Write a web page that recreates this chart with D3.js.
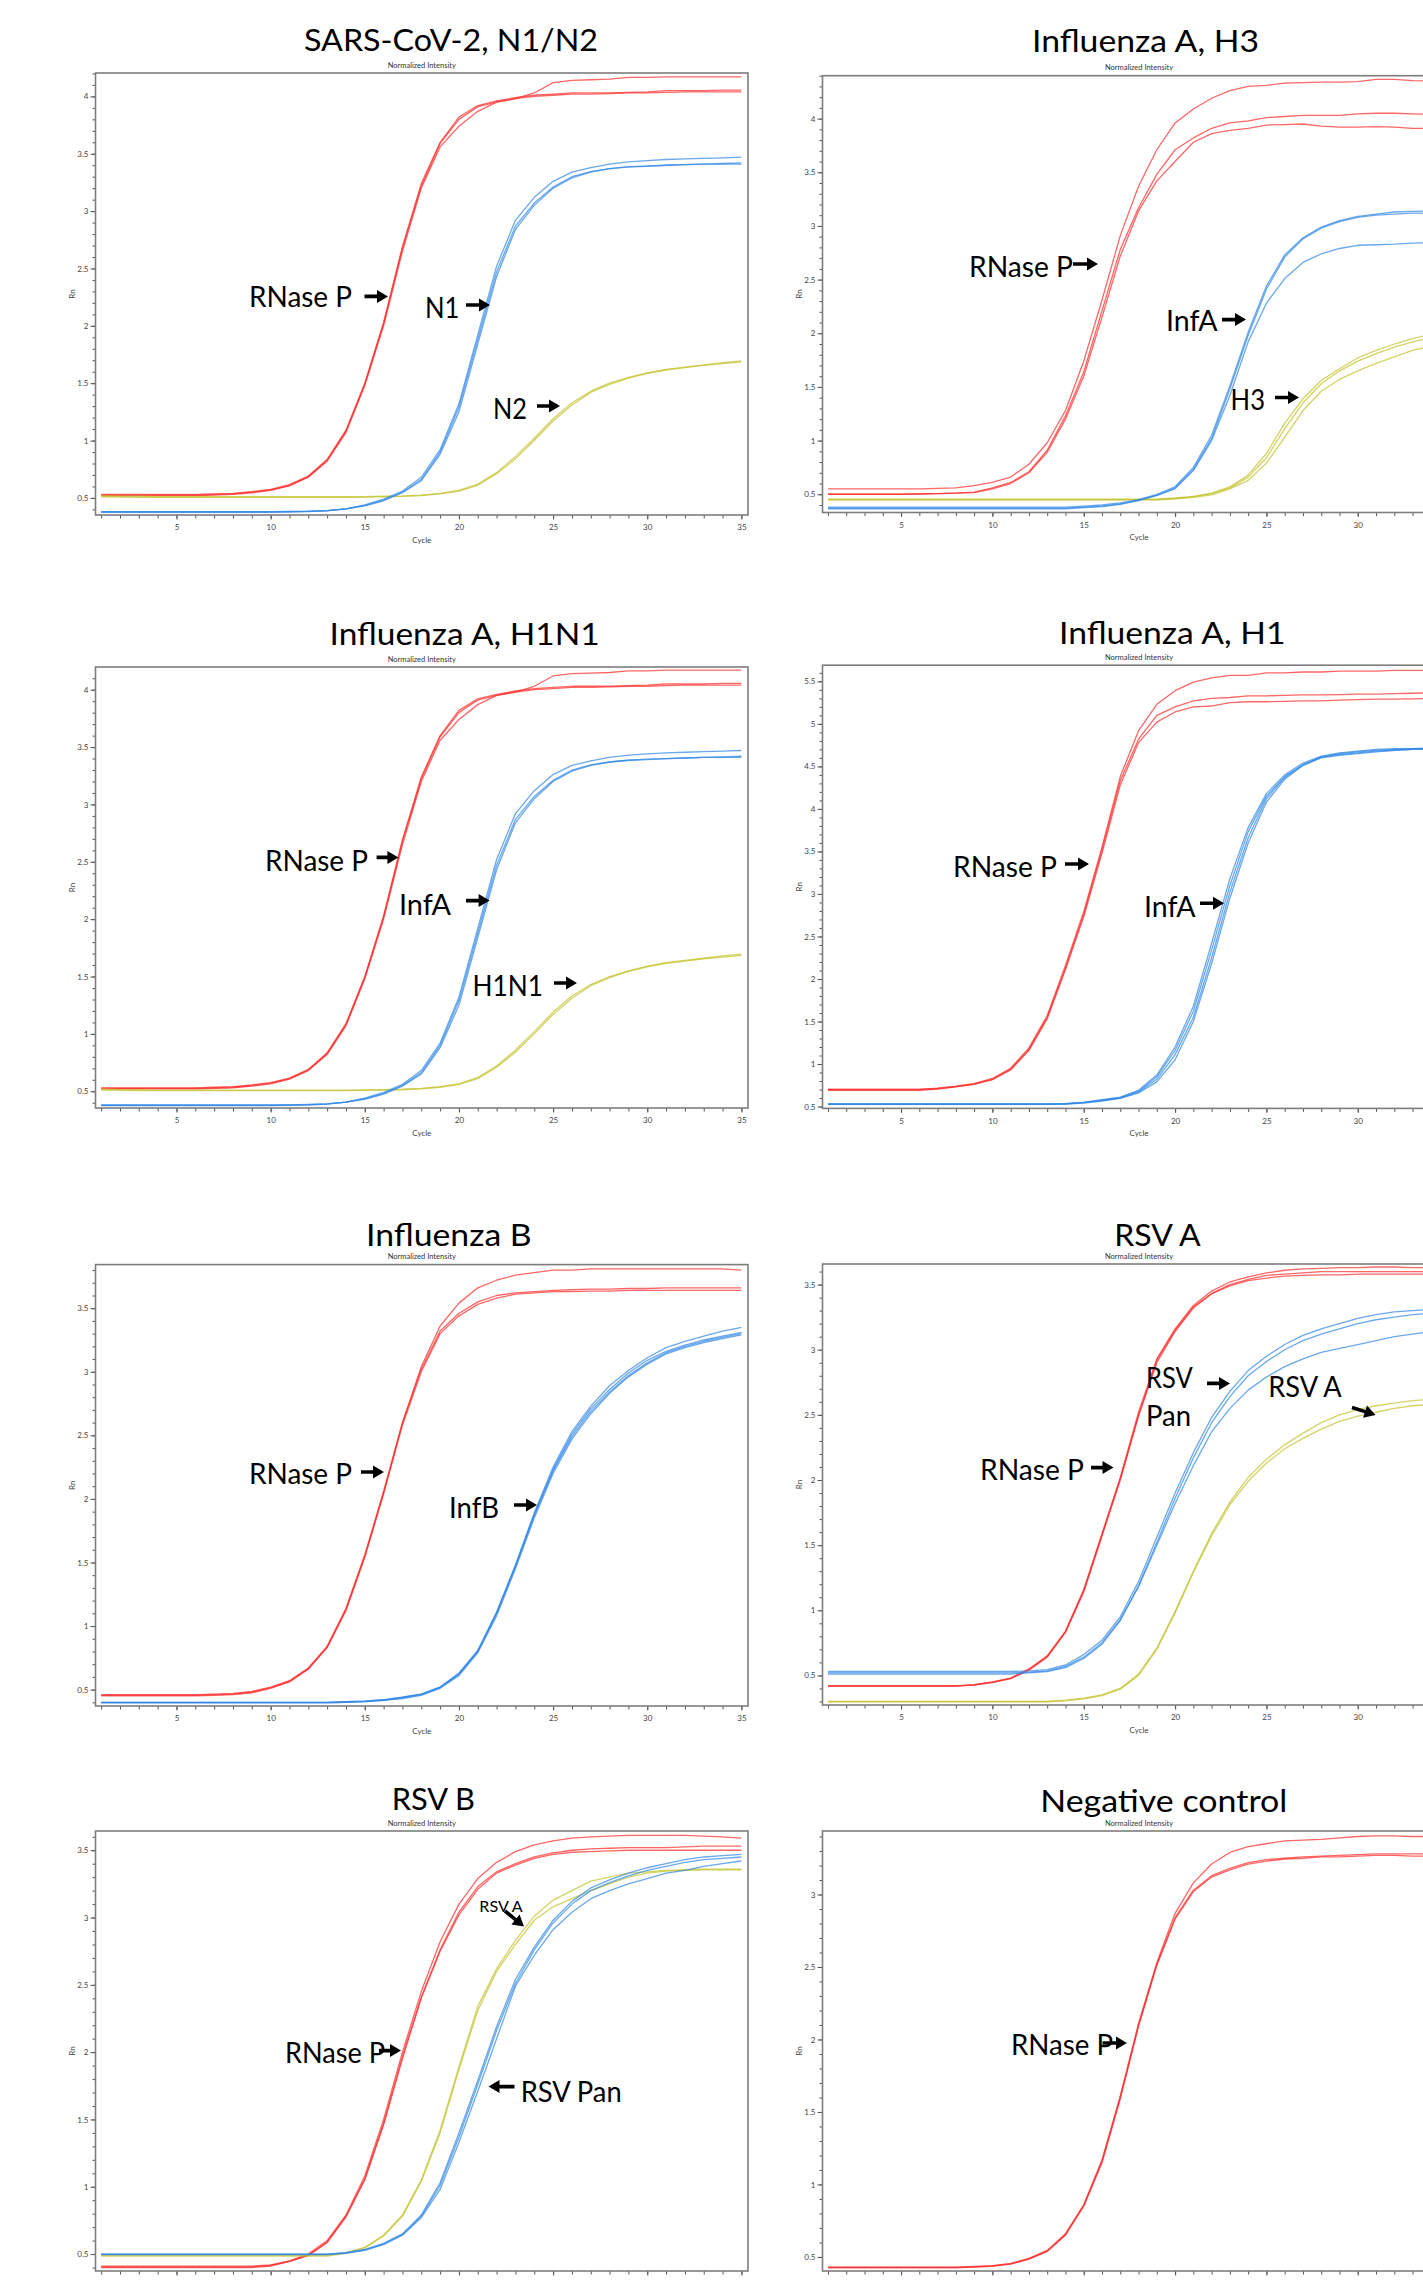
<!DOCTYPE html>
<html lang="en">
<head>
<meta charset="utf-8">
<title>Multiplex RT-qPCR amplification plots</title>
<script src="https://cdn.jsdelivr.net/npm/d3@7"></script>
<style>
  html, body { margin: 0; padding: 0; background: #fff; overflow: hidden; }
  svg { display: block; font-family: Lato, "Open Sans", sans-serif; }
  .tick text { fill: #444; font-size: 8px; font-family: Lato, sans-serif; }
  .tick line { stroke: #555; }
  .curve { fill: none; stroke-width: 1.3; stroke-linejoin: round; }
</style>
</head>
<body>
<script>

// ---- data (Rn per cycle) ----
var cycles = [1,2,3,4,5,6,7,8,9,10,11,12,13,14,15,16,17,18,19,20,21,22,23,24,25,26,27,28,29,30,31,32,33,34,35];
var xTickLabels = [5,10,15,20,25,30,35];
var yTicks3 = [0.5,1,1.5,2,2.5,3];
var yTicks35 = [0.5,1,1.5,2,2.5,3,3.5];
var yTicks4 = [0.5,1,1.5,2,2.5,3,3.5,4];
var yTicks55 = [0.5,1,1.5,2,2.5,3,3.5,4,4.5,5,5.5];

// SARS-CoV-2 N1/N2 run (the Influenza A H1N1 panel shows the same run)
var sarsRnaseP = [
  [0.53,0.53,0.53,0.53,0.53,0.53,0.535,0.54,0.555,0.575,0.615,0.69,0.835,1.09,1.50,2.03,2.69,3.24,3.60,3.82,3.92,3.96,3.99,4.01,4.02,4.03,4.03,4.03,4.035,4.04,4.05,4.05,4.05,4.055,4.055],
  [0.525,0.525,0.525,0.525,0.525,0.525,0.53,0.535,0.55,0.57,0.61,0.685,0.83,1.08,1.49,2.02,2.68,3.22,3.59,3.80,3.91,3.95,3.98,4.03,4.12,4.14,4.145,4.15,4.165,4.165,4.17,4.17,4.17,4.17,4.17],
  [0.52,0.52,0.52,0.52,0.52,0.52,0.525,0.53,0.545,0.565,0.605,0.68,0.82,1.07,1.48,2.00,2.65,3.20,3.56,3.74,3.87,3.95,3.98,4.00,4.01,4.02,4.02,4.025,4.03,4.03,4.035,4.04,4.04,4.04,4.04]
];
var sarsN1 = [
  [0.38,0.38,0.38,0.38,0.38,0.38,0.38,0.38,0.38,0.38,0.382,0.385,0.39,0.405,0.43,0.475,0.545,0.65,0.88,1.25,1.84,2.43,2.84,3.05,3.20,3.29,3.34,3.37,3.385,3.395,3.40,3.405,3.41,3.41,3.41],
  [0.375,0.375,0.375,0.375,0.375,0.375,0.375,0.375,0.375,0.375,0.377,0.38,0.388,0.405,0.44,0.49,0.56,0.68,0.92,1.32,1.92,2.52,2.92,3.12,3.26,3.34,3.38,3.41,3.43,3.44,3.45,3.455,3.46,3.465,3.47],
  [0.378,0.378,0.378,0.378,0.378,0.378,0.378,0.378,0.378,0.378,0.38,0.383,0.39,0.405,0.435,0.48,0.55,0.66,0.90,1.29,1.88,2.47,2.87,3.07,3.21,3.30,3.345,3.37,3.385,3.39,3.40,3.405,3.41,3.415,3.42]
];
var sarsN2 = [
  [0.52,0.515,0.515,0.51,0.51,0.51,0.51,0.51,0.51,0.51,0.51,0.51,0.51,0.51,0.512,0.515,0.518,0.525,0.54,0.565,0.62,0.72,0.86,1.02,1.19,1.33,1.43,1.50,1.55,1.59,1.62,1.64,1.66,1.68,1.695],
  [0.51,0.508,0.505,0.505,0.505,0.505,0.505,0.505,0.505,0.505,0.505,0.505,0.505,0.505,0.507,0.51,0.513,0.52,0.535,0.56,0.61,0.71,0.84,1.00,1.17,1.31,1.42,1.49,1.545,1.585,1.615,1.635,1.655,1.67,1.685]
];

// Influenza A, H3
var h3RnaseP = [
  [0.55,0.55,0.55,0.55,0.55,0.55,0.555,0.56,0.58,0.61,0.66,0.78,0.98,1.28,1.74,2.31,2.91,3.37,3.71,3.96,4.09,4.19,4.26,4.30,4.31,4.33,4.335,4.34,4.34,4.345,4.365,4.365,4.355,4.35,4.35],
  [0.50,0.50,0.50,0.50,0.50,0.505,0.505,0.51,0.52,0.56,0.61,0.71,0.91,1.23,1.64,2.21,2.78,3.17,3.48,3.71,3.82,3.91,3.96,3.98,4.01,4.02,4.03,4.03,4.03,4.045,4.05,4.05,4.045,4.04,4.04],
  [0.50,0.50,0.50,0.50,0.50,0.50,0.505,0.51,0.515,0.55,0.60,0.70,0.89,1.20,1.60,2.15,2.72,3.14,3.42,3.60,3.78,3.86,3.89,3.91,3.94,3.945,3.95,3.93,3.92,3.92,3.925,3.92,3.91,3.91,3.91]
];
var h3InfA = [
  [0.38,0.38,0.38,0.38,0.38,0.38,0.38,0.38,0.38,0.38,0.38,0.38,0.38,0.38,0.39,0.40,0.42,0.45,0.50,0.57,0.75,1.05,1.51,2.01,2.44,2.73,2.89,2.99,3.05,3.09,3.11,3.13,3.135,3.14,3.145],
  [0.365,0.365,0.365,0.365,0.365,0.365,0.365,0.365,0.365,0.365,0.365,0.365,0.365,0.365,0.375,0.385,0.405,0.44,0.49,0.56,0.73,1.02,1.48,1.98,2.41,2.71,2.88,2.98,3.04,3.08,3.10,3.11,3.12,3.12,3.125],
  [0.37,0.37,0.37,0.37,0.37,0.37,0.37,0.37,0.37,0.37,0.37,0.37,0.37,0.37,0.38,0.39,0.41,0.445,0.49,0.55,0.72,1.00,1.42,1.92,2.28,2.51,2.66,2.74,2.79,2.82,2.825,2.83,2.84,2.845,2.85]
];
var h3H3 = [
  [0.455,0.455,0.455,0.455,0.455,0.455,0.455,0.455,0.455,0.455,0.455,0.455,0.455,0.455,0.455,0.455,0.455,0.455,0.455,0.465,0.48,0.51,0.57,0.68,0.88,1.16,1.39,1.56,1.67,1.77,1.84,1.90,1.95,1.99,2.02],
  [0.45,0.45,0.45,0.45,0.45,0.45,0.45,0.45,0.45,0.45,0.45,0.45,0.45,0.45,0.45,0.45,0.45,0.45,0.45,0.46,0.475,0.505,0.56,0.66,0.84,1.11,1.35,1.53,1.65,1.74,1.81,1.87,1.92,1.96,1.99],
  [0.448,0.448,0.448,0.448,0.448,0.448,0.448,0.448,0.448,0.448,0.448,0.448,0.448,0.448,0.448,0.448,0.448,0.448,0.448,0.458,0.47,0.495,0.55,0.63,0.79,1.03,1.28,1.46,1.57,1.65,1.72,1.78,1.84,1.88,1.92]
];

// Influenza A, H1
var h1RnaseP = [
  [0.70,0.70,0.70,0.70,0.70,0.70,0.715,0.74,0.77,0.83,0.95,1.19,1.57,2.16,2.79,3.55,4.38,4.92,5.23,5.39,5.49,5.54,5.57,5.57,5.60,5.60,5.61,5.61,5.62,5.62,5.62,5.63,5.63,5.63,5.63],
  [0.70,0.70,0.70,0.70,0.70,0.70,0.712,0.735,0.765,0.82,0.94,1.17,1.55,2.13,2.76,3.52,4.33,4.82,5.10,5.20,5.27,5.30,5.31,5.33,5.33,5.335,5.34,5.34,5.345,5.35,5.35,5.355,5.36,5.365,5.37],
  [0.69,0.69,0.69,0.69,0.69,0.69,0.705,0.73,0.76,0.815,0.93,1.16,1.53,2.11,2.73,3.48,4.28,4.78,5.02,5.14,5.20,5.21,5.25,5.26,5.26,5.265,5.27,5.27,5.28,5.285,5.29,5.29,5.295,5.30,5.30]
];
var h1InfA = [
  [0.53,0.53,0.53,0.53,0.53,0.53,0.53,0.53,0.53,0.53,0.53,0.53,0.53,0.535,0.55,0.58,0.61,0.69,0.87,1.20,1.68,2.42,3.18,3.78,4.18,4.40,4.54,4.62,4.66,4.68,4.70,4.71,4.71,4.72,4.72],
  [0.53,0.53,0.53,0.53,0.53,0.53,0.53,0.53,0.53,0.53,0.53,0.53,0.53,0.535,0.548,0.575,0.605,0.68,0.85,1.16,1.62,2.34,3.10,3.73,4.15,4.38,4.52,4.61,4.65,4.67,4.69,4.70,4.71,4.71,4.72],
  [0.525,0.525,0.525,0.525,0.525,0.525,0.525,0.525,0.525,0.525,0.525,0.525,0.525,0.53,0.545,0.57,0.60,0.67,0.82,1.11,1.55,2.25,3.02,3.66,4.12,4.37,4.52,4.61,4.64,4.66,4.68,4.69,4.70,4.70,4.71],
  [0.525,0.525,0.525,0.525,0.525,0.525,0.525,0.525,0.525,0.525,0.525,0.525,0.525,0.53,0.54,0.565,0.595,0.66,0.79,1.05,1.50,2.18,2.95,3.60,4.08,4.35,4.51,4.60,4.63,4.65,4.67,4.69,4.70,4.71,4.72]
];

// Influenza B
var infBRnaseP = [
  [0.46,0.46,0.46,0.46,0.46,0.46,0.465,0.47,0.485,0.52,0.57,0.67,0.84,1.14,1.56,2.06,2.60,3.04,3.36,3.54,3.66,3.72,3.76,3.78,3.80,3.80,3.81,3.81,3.81,3.81,3.81,3.81,3.81,3.81,3.80],
  [0.455,0.455,0.455,0.455,0.455,0.455,0.46,0.465,0.48,0.515,0.565,0.665,0.835,1.13,1.55,2.05,2.60,3.02,3.32,3.46,3.55,3.60,3.62,3.63,3.64,3.645,3.65,3.65,3.655,3.655,3.66,3.66,3.66,3.66,3.66],
  [0.45,0.45,0.45,0.45,0.45,0.45,0.455,0.46,0.475,0.51,0.56,0.66,0.83,1.12,1.54,2.04,2.58,3.00,3.30,3.44,3.53,3.58,3.61,3.62,3.63,3.63,3.635,3.635,3.64,3.64,3.64,3.64,3.64,3.64,3.64]
];
var infBInfB = [
  [0.40,0.40,0.40,0.40,0.40,0.40,0.40,0.40,0.40,0.40,0.40,0.40,0.40,0.405,0.41,0.42,0.44,0.465,0.52,0.63,0.81,1.11,1.48,1.89,2.25,2.53,2.73,2.89,3.01,3.11,3.19,3.24,3.28,3.32,3.35],
  [0.398,0.398,0.398,0.398,0.398,0.398,0.398,0.398,0.398,0.398,0.398,0.398,0.398,0.40,0.405,0.415,0.435,0.46,0.515,0.62,0.80,1.10,1.47,1.87,2.22,2.49,2.69,2.84,2.97,3.07,3.15,3.20,3.24,3.27,3.30],
  [0.395,0.395,0.395,0.395,0.395,0.395,0.395,0.395,0.395,0.395,0.395,0.395,0.395,0.40,0.405,0.415,0.43,0.455,0.51,0.61,0.79,1.08,1.45,1.85,2.20,2.47,2.67,2.83,2.96,3.06,3.14,3.19,3.23,3.26,3.29],
  [0.40,0.40,0.40,0.40,0.40,0.40,0.40,0.40,0.40,0.40,0.40,0.40,0.40,0.405,0.41,0.42,0.44,0.465,0.52,0.625,0.80,1.10,1.47,1.88,2.23,2.51,2.71,2.86,2.99,3.09,3.16,3.21,3.25,3.28,3.31]
];

// RSV A
var rsvaRnaseP = [
  [0.42,0.42,0.42,0.42,0.42,0.42,0.42,0.42,0.43,0.45,0.48,0.55,0.65,0.84,1.16,1.59,2.02,2.52,2.93,3.16,3.34,3.45,3.52,3.56,3.59,3.61,3.62,3.625,3.63,3.63,3.635,3.635,3.63,3.63,3.63],
  [0.42,0.42,0.42,0.42,0.42,0.42,0.42,0.42,0.428,0.448,0.478,0.545,0.645,0.835,1.15,1.58,2.01,2.50,2.92,3.15,3.33,3.43,3.50,3.54,3.57,3.58,3.59,3.60,3.60,3.60,3.60,3.60,3.60,3.60,3.595],
  [0.418,0.418,0.418,0.418,0.418,0.418,0.418,0.418,0.425,0.445,0.475,0.54,0.64,0.83,1.14,1.57,2.00,2.49,2.90,3.14,3.32,3.43,3.49,3.53,3.55,3.565,3.57,3.575,3.575,3.58,3.58,3.58,3.58,3.58,3.575]
];
var rsvaPan = [
  [0.53,0.53,0.53,0.53,0.53,0.53,0.53,0.53,0.53,0.53,0.53,0.535,0.545,0.58,0.66,0.77,0.95,1.22,1.56,1.90,2.21,2.48,2.68,2.84,2.95,3.04,3.11,3.16,3.20,3.24,3.27,3.29,3.30,3.31,3.32],
  [0.51,0.51,0.51,0.51,0.51,0.51,0.51,0.51,0.51,0.51,0.51,0.52,0.53,0.56,0.63,0.74,0.92,1.19,1.52,1.86,2.17,2.44,2.64,2.80,2.91,3.00,3.07,3.12,3.16,3.20,3.23,3.25,3.27,3.28,3.29],
  [0.52,0.52,0.52,0.52,0.52,0.52,0.52,0.52,0.52,0.52,0.52,0.525,0.535,0.57,0.64,0.75,0.93,1.18,1.50,1.82,2.11,2.37,2.55,2.69,2.79,2.87,2.93,2.98,3.01,3.04,3.07,3.10,3.12,3.14,3.15]
];
var rsvaA = [
  [0.30,0.30,0.30,0.30,0.30,0.30,0.30,0.30,0.30,0.30,0.30,0.30,0.30,0.31,0.325,0.35,0.40,0.51,0.71,0.99,1.30,1.59,1.83,2.02,2.16,2.27,2.36,2.44,2.50,2.54,2.57,2.59,2.61,2.62,2.63],
  [0.298,0.298,0.298,0.298,0.298,0.298,0.298,0.298,0.298,0.298,0.298,0.298,0.298,0.305,0.32,0.345,0.395,0.50,0.70,0.98,1.29,1.57,1.81,1.99,2.13,2.24,2.32,2.39,2.45,2.49,2.52,2.55,2.57,2.58,2.59]
];

// RSV B
var rsvbRnaseP = [
  [0.41,0.41,0.41,0.41,0.41,0.41,0.41,0.41,0.41,0.42,0.45,0.50,0.60,0.79,1.08,1.50,2.00,2.45,2.82,3.10,3.29,3.41,3.49,3.54,3.57,3.59,3.60,3.605,3.61,3.61,3.61,3.61,3.605,3.60,3.59],
  [0.40,0.40,0.40,0.40,0.40,0.40,0.40,0.40,0.40,0.41,0.445,0.49,0.59,0.78,1.06,1.47,1.97,2.41,2.76,3.04,3.23,3.34,3.40,3.45,3.48,3.50,3.51,3.515,3.52,3.52,3.52,3.525,3.53,3.53,3.53],
  [0.405,0.405,0.405,0.405,0.405,0.405,0.405,0.405,0.405,0.415,0.445,0.49,0.585,0.775,1.05,1.46,1.95,2.40,2.75,3.02,3.21,3.33,3.39,3.44,3.47,3.485,3.49,3.495,3.50,3.50,3.50,3.50,3.50,3.50,3.50]
];
var rsvbA = [
  [0.49,0.49,0.49,0.49,0.49,0.49,0.49,0.49,0.49,0.49,0.49,0.49,0.49,0.51,0.55,0.64,0.79,1.05,1.42,1.89,2.34,2.62,2.83,3.01,3.13,3.20,3.27,3.30,3.33,3.34,3.35,3.355,3.36,3.36,3.36],
  [0.485,0.485,0.485,0.485,0.485,0.485,0.485,0.485,0.485,0.485,0.485,0.485,0.485,0.505,0.545,0.635,0.78,1.04,1.40,1.87,2.31,2.60,2.80,2.98,3.08,3.14,3.20,3.25,3.30,3.33,3.345,3.35,3.355,3.355,3.355]
];
var rsvbPan = [
  [0.50,0.50,0.50,0.50,0.50,0.50,0.50,0.50,0.50,0.50,0.50,0.50,0.50,0.51,0.535,0.58,0.65,0.79,1.03,1.40,1.79,2.19,2.54,2.78,2.98,3.12,3.22,3.28,3.33,3.37,3.40,3.43,3.45,3.46,3.47],
  [0.50,0.50,0.50,0.50,0.50,0.50,0.50,0.50,0.50,0.50,0.50,0.50,0.50,0.508,0.53,0.575,0.645,0.78,1.01,1.37,1.76,2.16,2.51,2.76,2.96,3.10,3.20,3.26,3.31,3.35,3.38,3.41,3.43,3.44,3.45],
  [0.495,0.495,0.495,0.495,0.495,0.495,0.495,0.495,0.495,0.495,0.495,0.495,0.495,0.505,0.528,0.57,0.64,0.77,0.98,1.33,1.71,2.10,2.49,2.72,2.91,3.04,3.14,3.20,3.25,3.29,3.33,3.35,3.38,3.40,3.42]
];

// Negative control
var negRnaseP = [
  [0.43,0.43,0.43,0.43,0.43,0.43,0.43,0.43,0.435,0.44,0.455,0.49,0.545,0.66,0.86,1.17,1.61,2.11,2.53,2.87,3.08,3.21,3.29,3.33,3.35,3.37,3.375,3.38,3.39,3.40,3.405,3.405,3.40,3.40,3.40],
  [0.428,0.428,0.428,0.428,0.428,0.428,0.428,0.428,0.432,0.438,0.452,0.487,0.54,0.655,0.855,1.16,1.60,2.10,2.52,2.84,3.03,3.13,3.18,3.22,3.24,3.25,3.26,3.265,3.27,3.275,3.28,3.28,3.28,3.28,3.28],
  [0.425,0.425,0.425,0.425,0.425,0.425,0.425,0.425,0.43,0.435,0.45,0.485,0.538,0.65,0.85,1.15,1.59,2.09,2.51,2.83,3.02,3.12,3.17,3.21,3.23,3.245,3.25,3.26,3.26,3.265,3.27,3.27,3.265,3.265,3.265]
];

// ---- layout ----
var W = 1423, H = 2282;
var RED = "#ff2b2b", BLUE = "#2f86e6", YEL = "#c2c22a";
var xDomain = [0.7, 35.35];
var left = {x0: 95.5, x1: 748}, right = {x0: 822.5, x1: 1455.5};

var panels = [
  { title: "SARS-CoV-2, N1/N2", tx: [304, 598], ty: 51, col: left, y0: 73, y1: 515, yDomain: [0.351, 4.204], yTicks: yTicks4,
    series: [[sarsRnaseP, RED], [sarsN2, YEL], [sarsN1, BLUE]],
    labels: [["RNase P", 249, 352, 307], ["N1", 425, 459.5, 318], ["N2", 493, 527, 419]],
    arrows: [[364.5, 296.4, 388, 296.4], [466, 305, 490, 305], [537, 406, 560, 406]] },
  { title: "Influenza A, H3", tx: [1032, 1259], ty: 52, col: right, y0: 75.7, y1: 512.5, yDomain: [0.33, 4.40], yTicks: yTicks4,
    series: [[h3RnaseP, RED], [h3H3, YEL], [h3InfA, BLUE]],
    labels: [["RNase P", 969, 1073, 277], ["InfA", 1166, 1217.5, 331], ["H3", 1230.6, 1265, 409.6]],
    arrows: [[1073, 264, 1098, 264], [1222, 319.6, 1246, 319.6], [1275, 397.5, 1299, 397.5]] },
  { title: "Influenza A, H1N1", tx: [329.6, 599.6], ty: 645, col: left, y0: 667, y1: 1108, yDomain: [0.354, 4.198], yTicks: yTicks4,
    series: [[sarsRnaseP, RED], [sarsN2, YEL], [sarsN1, BLUE]],
    labels: [["RNase P", 265, 368, 871], ["InfA", 399, 451, 915], ["H1N1", 472.6, 543, 995.5]],
    arrows: [[376.6, 857.4, 398.4, 857.4], [466, 900.6, 489.6, 900.6], [554, 983, 577, 983]] },
  { title: "Influenza A, H1", tx: [1059, 1285.6], ty: 644, col: right, y0: 665.2, y1: 1108.4, yDomain: [0.478, 5.69], yTicks: yTicks55,
    series: [[h1RnaseP, RED], [h1InfA, BLUE]],
    labels: [["RNase P", 953, 1057, 877], ["InfA", 1144, 1195.5, 916.7]],
    arrows: [[1065, 864, 1089, 864], [1200, 903.3, 1224, 903.3]] },
  { title: "Influenza B", tx: [366, 531.7], ty: 1246, col: left, y0: 1264.6, y1: 1706, yDomain: [0.371, 3.843], yTicks: yTicks35,
    series: [[infBRnaseP, RED], [infBInfB, BLUE]],
    labels: [["RNase P", 249, 352, 1484.3], ["InfB", 449, 499, 1517.5]],
    arrows: [[361, 1472, 384, 1472], [514, 1505, 537, 1505]] },
  { title: "RSV A", tx: [1114.3, 1200.6], ty: 1246, col: right, y0: 1264, y1: 1705, yDomain: [0.273, 3.658], yTicks: yTicks35,
    series: [[rsvaRnaseP, RED], [rsvaA, YEL], [rsvaPan, BLUE]],
    labels: [["RNase P", 980, 1084, 1480], ["RSV", 1146, 1192.7, 1388.3], ["Pan", 1146, 1191, 1426.4], ["RSV A", 1268.3, 1341.7, 1396.7]],
    arrows: [[1091, 1467.6, 1113.5, 1467.6], [1207, 1383.4, 1230, 1383.4], [1352, 1407.5, 1375.5, 1415]] },
  { title: "RSV B", tx: [391.7, 475], ty: 1810, col: left, y0: 1831, y1: 2271, yDomain: [0.374, 3.643], yTicks: yTicks35,
    series: [[rsvbRnaseP, RED], [rsvbA, YEL], [rsvbPan, BLUE]],
    labels: [["RNase P", 285, 385, 2063.3], ["RSV A", 479.3, 522.7, 1911.7, 16], ["RSV Pan", 520.7, 621.7, 2101.7]],
    arrows: [[379, 2050.6, 401, 2050.6], [505, 1911, 524, 1926.5], [514.5, 2086.6, 488.5, 2086.6]] },
  { title: "Negative control", tx: [1040.3, 1287.3], ty: 1811.6, col: right, y0: 1831, y1: 2271, yDomain: [0.403, 3.438], yTicks: yTicks3,
    series: [[negRnaseP, RED]],
    labels: [["RNase P", 1011, 1113, 2055]],
    arrows: [[1102.5, 2043, 1127, 2043]] }
];

var svg = d3.select("body").append("svg")
    .attr("width", W)
    .attr("height", H)
    .attr("viewBox", "0 0 " + W + " " + H);

var bad = [];

panels.forEach(function(p, i) {
  var c = p.col;
  var x = d3.scaleLinear().domain(xDomain).range([c.x0, c.x1]);
  var y = d3.scaleLinear().domain(p.yDomain).range([p.y1, p.y0]);
  var g = svg.append("g").attr("class", "panel");

  g.append("clipPath").attr("id", "clip" + i)
    .append("rect")
      .attr("x", c.x0).attr("y", p.y0)
      .attr("width", c.x1 - c.x0).attr("height", p.y1 - p.y0);

  // title + small header
  g.append("text")
      .attr("x", p.tx[0]).attr("y", p.ty)
      .attr("textLength", p.tx[1] - p.tx[0])
      .attr("lengthAdjust", "spacingAndGlyphs")
      .style("font-size", "31px")
      .attr("fill", "#000")
      .text(p.title);

  g.append("text")
      .attr("x", (c.x0 + c.x1) / 2).attr("y", p.y0 - 5.5)
      .attr("text-anchor", "middle")
      .style("font-size", "7.5px")
      .attr("fill", "#333")
      .text("Normalized Intensity");

  // y axis: minor ticks every 0.1, labelled ticks every 0.5
  var minor = d3.range(Math.ceil(p.yDomain[0] * 10), Math.floor(p.yDomain[1] * 10) + 1).map(function(v) { return v / 10; });
  g.append("g").attr("transform", "translate(" + c.x0 + ",0)")
      .call(d3.axisLeft(y).tickValues(minor).tickSize(3).tickFormat(""))
      .call(function(a) { a.select(".domain").remove(); a.selectAll("text").remove(); });
  g.append("g").attr("transform", "translate(" + c.x0 + ",0)")
      .call(d3.axisLeft(y).tickValues(p.yTicks).tickSize(5).tickPadding(2).tickFormat(d3.format("")))
      .call(function(a) { a.select(".domain").remove(); });

  // x axis: tick each cycle, label every 5 (labels past the page edge are not drawn)
  var labelsFit = p.y1 + 20 < H;
  g.append("g").attr("transform", "translate(0," + p.y1 + ")")
      .call(d3.axisBottom(x).tickValues(cycles).tickSize(3.5).tickFormat(""))
      .call(function(a) { a.select(".domain").remove(); a.selectAll("text").remove(); });
  g.append("g").attr("transform", "translate(0," + p.y1 + ")")
      .call(d3.axisBottom(x).tickValues(xTickLabels).tickSize(4.5).tickPadding(5).tickFormat(d3.format("d")))
      .call(function(a) {
        a.select(".domain").remove();
        a.selectAll(".tick").filter(function(d) { return !labelsFit || x(d) + 6 > W; }).select("text").remove();
      });

  if (labelsFit) {
    g.append("text")
        .attr("x", (c.x0 + c.x1) / 2).attr("y", p.y1 + 27.5)
        .attr("text-anchor", "middle")
        .style("font-size", "8px")
        .attr("fill", "#444")
        .text("Cycle");
  }

  g.append("text")
      .attr("transform", "translate(" + (c.x0 - 21) + "," + ((p.y0 + p.y1) / 2) + ") rotate(-90)")
      .attr("text-anchor", "middle")
      .style("font-size", "8px")
      .attr("fill", "#444")
      .text("Rn");

  // amplification curves
  var line = d3.line()
      .x(function(d, j) { return x(cycles[j]); })
      .y(function(d) { return y(d); });

  var plot = g.append("g").attr("clip-path", "url(#clip" + i + ")");
  p.series.forEach(function(s) {
    s[0].forEach(function(rep) {
      if (rep.length !== cycles.length) bad.push(p.title + ":" + rep.length);
      plot.append("path")
          .attr("class", "curve")
          .attr("d", line(rep))
          .attr("stroke", s[1])
          .attr("stroke-opacity", 0.72);
    });
  });

  // plot frame
  g.append("rect")
      .attr("x", c.x0).attr("y", p.y0)
      .attr("width", c.x1 - c.x0).attr("height", p.y1 - p.y0)
      .attr("fill", "none")
      .attr("stroke", "#7d7d7d")
      .attr("stroke-width", 1.6);

  // target labels and arrows
  p.labels.forEach(function(l) {
    g.append("text")
        .attr("x", l[1]).attr("y", l[3])
        .attr("textLength", l[2] - l[1])
        .attr("lengthAdjust", "spacingAndGlyphs")
        .style("font-size", (l[4] || 28) + "px")
        .attr("fill", "#000")
        .text(l[0]);
  });

  p.arrows.forEach(function(a) {
    var dx = a[2] - a[0], dy = a[3] - a[1];
    var L = Math.hypot(dx, dy), ang = Math.atan2(dy, dx) * 180 / Math.PI;
    var hl = 11, hw = 6.5, sw = 1.8;
    g.append("path")
        .attr("d", "M0," + (-sw) + "L" + (L - hl) + "," + (-sw) + "L" + (L - hl) + "," + (-hw) +
                   "L" + L + ",0L" + (L - hl) + "," + hw + "L" + (L - hl) + "," + sw + "L0," + sw + "Z")
        .attr("transform", "translate(" + a[0] + "," + a[1] + ") rotate(" + ang + ")")
        .attr("fill", "#000");
  });
});

if (bad.length) throw new Error("series length mismatch: " + bad.join(", "));

</script>
</body>
</html>
